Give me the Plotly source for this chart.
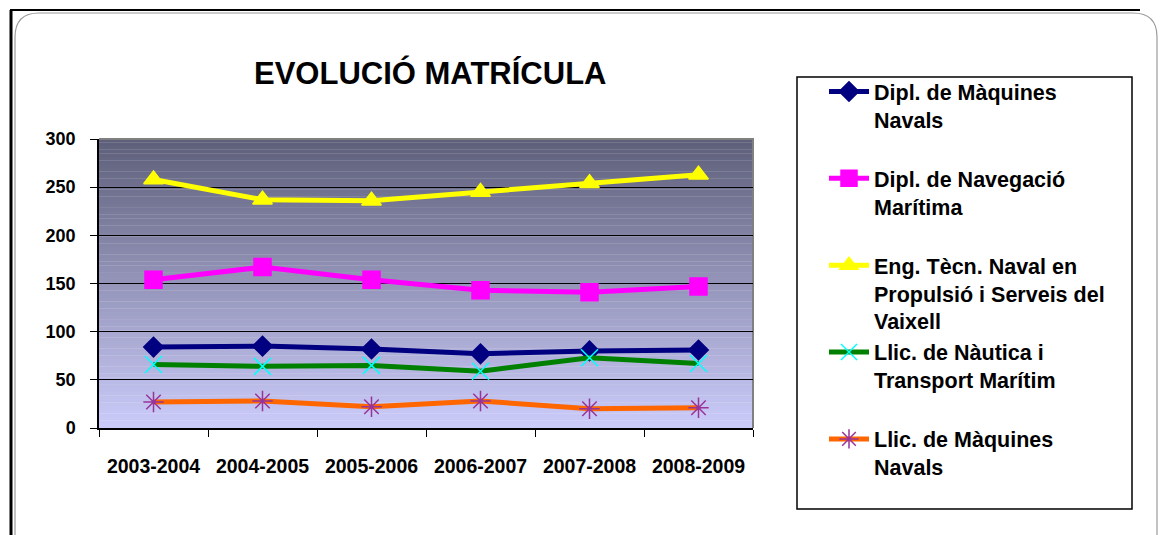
import plotly.graph_objects as go

W, H = 1164, 535
L, R, T, B = 99, 753, 139, 428  # plot area in pixels

categories = ["2003-2004", "2004-2005", "2005-2006", "2006-2007", "2007-2008", "2008-2009"]
dipl_maquines = [84, 85, 82, 77, 80, 81]
dipl_navegacio = [154, 167, 154, 143, 141, 147]
eng_tecn_naval = [258, 237, 236, 245, 254, 263]
llic_nautica = [66, 64, 65, 59, 73, 67]
llic_maquines = [27, 28, 22, 28, 20, 21]

names = [
    "Dipl. de Màquines<br>Navals<br> ",
    "Dipl. de Navegació<br>Marítima<br> ",
    "Eng. Tècn. Naval en<br>Propulsió i Serveis del<br>Vaixell",
    "Llic. de Nàutica i<br>Transport Marítim<br> ",
    "Llic. de Màquines<br>Navals<br> ",
]
series = [dipl_maquines, dipl_navegacio, eng_tecn_naval, llic_nautica, llic_maquines]
line_colors = ["#000080", "#ff00ff", "#ffff00", "#008000", "#ff6600"]
marker_colors = ["#000080", "#ff00ff", "#ffff00", "#00ffff", "#993399"]
symbols = ["diamond", "square", "triangle-up", "x-thin-open", "asterisk-open"]
msizes = [15, 17, 17, 17, 17]


def px(x):
    return (x - L) / (R - L)


def py(y):
    return (B - y) / (B - T)


fig = go.Figure()
for name, vals, lc, mc, sym, ms in zip(names, series, line_colors, marker_colors, symbols, msizes):
    fig.add_trace(go.Scatter(
        x=categories, y=vals, name=name, mode="lines+markers",
        line=dict(color=lc, width=5),
        marker=dict(symbol=sym, size=ms, color=mc, line=dict(color=mc, width=1.5)),
    ))

shapes = []
# gradient plot background
top_c = (94, 95, 121)
bot_c = (203, 203, 250)
N = 80
for i in range(N):
    f = i / (N - 1)
    c = tuple(round(top_c[k] + (bot_c[k] - top_c[k]) * f) for k in range(3))
    shapes.append(dict(type="rect", xref="x domain", yref="y domain",
                       x0=0, x1=1, y0=1 - (i + 1) / N, y1=1 - i / N + 0.001,
                       fillcolor="rgb(%d,%d,%d)" % c, line=dict(width=0), layer="below"))
# grey plot border (top/right)
shapes.append(dict(type="path", xref="x domain", yref="y domain",
                   path="M 0 1 L 1 1 L 1 0", line=dict(color="#808080", width=2), layer="below"))

# outer frame lines
shapes.append(dict(type="line", xref="paper", yref="paper", x0=px(10), x1=px(1140), y0=py(10), y1=py(10),
                   line=dict(color="black", width=2)))
shapes.append(dict(type="line", xref="paper", yref="paper", x0=px(11), x1=px(11), y0=py(10), y1=py(540),
                   line=dict(color="black", width=3)))
# rounded chart-area border
x0, x1, y0, y1, r = 15, 1157, 13, 560, 24
path = (f"M {px(x0)} {py(y0 + r)} Q {px(x0)} {py(y0)} {px(x0 + r)} {py(y0)} "
        f"L {px(x1 - r)} {py(y0)} Q {px(x1)} {py(y0)} {px(x1)} {py(y0 + r)} "
        f"L {px(x1)} {py(y1)} M {px(x0)} {py(y0 + r)} L {px(x0)} {py(y1)}")
shapes.append(dict(type="path", xref="paper", yref="paper", path=path,
                   line=dict(color="#9a9a9a", width=1.2)))
# legend box
shapes.append(dict(type="rect", xref="paper", yref="paper", x0=px(797), x1=px(1132), y0=py(77), y1=py(509),
                   line=dict(color="black", width=1.5), fillcolor="rgba(0,0,0,0)"))

font_family = "Liberation Sans, Arial, sans-serif"

fig.update_layout(
    width=W, height=H,
    margin=dict(l=L, r=W - R, t=T, b=H - B, pad=0),
    paper_bgcolor="white",
    plot_bgcolor="rgba(0,0,0,0)",
    shapes=shapes,
    showlegend=True,
    legend=dict(
        x=px(824), y=py(71), xanchor="left", yanchor="top",
        font=dict(family=font_family, size=21.5, color="black", weight="bold"),
        bgcolor="rgba(0,0,0,0)", borderwidth=0, valign="top",
        tracegroupgap=0, itemwidth=40, maxheight=1000,
    ),
    annotations=[dict(
        text="EVOLUCIÓ MATRÍCULA", xref="paper", yref="paper",
        x=px(430), y=py(73), xanchor="center", yanchor="middle", showarrow=False,
        font=dict(family=font_family, size=31, color="black", weight="bold"),
    )],
    xaxis=dict(
        type="category", range=[-0.5, 5.5], tickson="boundaries",
        showline=True, linecolor="black", linewidth=1.5,
        ticks="outside", ticklen=7, tickcolor="black",
        showgrid=False, zeroline=False,
        tickfont=dict(family=font_family, size=19.5, color="black", weight="bold"),
        ticklabelstandoff=20,
    ),
    yaxis=dict(
        range=[0, 300], dtick=50, tick0=0,
        showline=True, linecolor="black", linewidth=1.5,
        ticks="outside", ticklen=7, tickcolor="black",
        showgrid=True, gridcolor="black", gridwidth=1.2, zeroline=False,
        tickfont=dict(family=font_family, size=18, color="black", weight="bold"),
        ticklabelstandoff=11,
    ),
)

fig.write_html("out.html", config={"displayModeBar": False},
               post_script="document.body.style.margin='0px';")
